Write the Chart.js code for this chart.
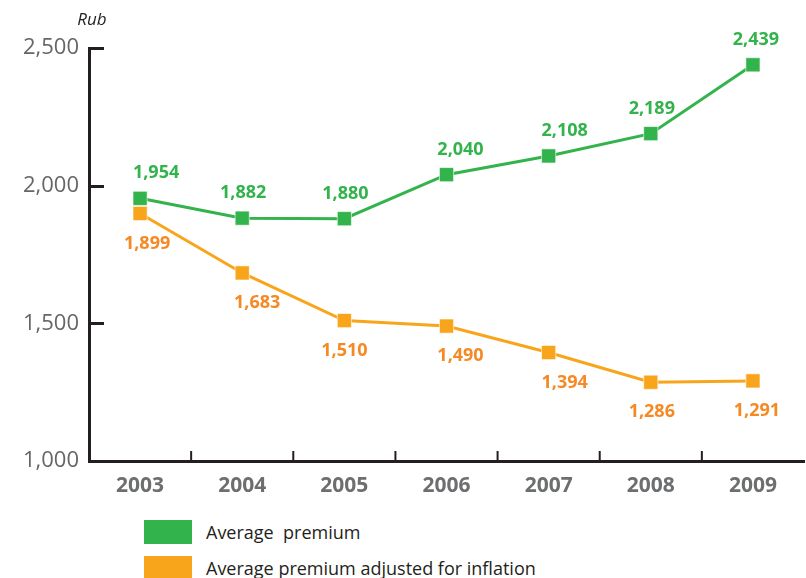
<!DOCTYPE html>
<html>
<head>
<meta charset="utf-8">
<script src="https://cdn.jsdelivr.net/npm/chart.js@4"></script>
<style>
  html, body { margin: 0; padding: 0; background: #fff; overflow: hidden; width: 806px; height: 578px; }
  .wrap { position: relative; width: 815px; height: 505px; }
  .legend { position: absolute; left: 144px; top: 520px; font-family: "Open Sans", sans-serif; font-size: 18px; color: #231f20; }
  .legend div { position: relative; height: 36px; }
  .legend span.box { position: absolute; left: 0; top: 0; width: 48px; height: 24px; }
  .legend span.txt { position: absolute; left: 62px; top: 0; line-height: 24px; white-space: pre; }
</style>
</head>
<body>
<div class="wrap"><canvas id="chart"></canvas></div>
<div class="legend" id="legend"></div>
<script>
const years = ['2003', '2004', '2005', '2006', '2007', '2008', '2009'];
const avgPremium = [1954, 1882, 1880, 2040, 2108, 2189, 2439];
const avgAdjusted = [1899, 1683, 1510, 1490, 1394, 1286, 1291];
const seriesNames = ['Average  premium', 'Average premium adjusted for inflation'];
const yTicks = [1000, 1500, 2000, 2500];

const green = '#33b34b';
const orange = '#f9a51c';
const orangeText = '#f58a25';

// small horizontal nudges of the value labels, as in the original layout
const labelNudge = [
  [16, 1, 1, 14, 16, 1, 3],
  [7, 15, 0, 14, 16, 1, 4]
];

const axisTicks = {
  id: 'axisTicks',
  afterDraw(chart) {
    const ctx = chart.ctx;
    const x = chart.scales.x, y = chart.scales.y;
    const area = chart.chartArea;
    ctx.save();
    ctx.strokeStyle = '#231f20';
    ctx.lineWidth = 3;
    // y ticks point inward
    yTicks.forEach(v => {
      if (v === yTicks[0]) return;
      const py = Math.round(y.getPixelForValue(v)) + 0.5;
      ctx.beginPath();
      ctx.moveTo(area.left - 1, py);
      ctx.lineTo(area.left + 15, py);
      ctx.stroke();
    });
    // x ticks between categories, pointing up
    ctx.lineWidth = 2;
    for (let i = 0; i < years.length - 1; i++) {
      const px = (x.getPixelForValue(i) + x.getPixelForValue(i + 1)) / 2;
      ctx.beginPath();
      ctx.moveTo(px, area.bottom);
      ctx.lineTo(px, area.bottom - 10);
      ctx.stroke();
    }
    // unit label
    ctx.fillStyle = '#231f20';
    ctx.font = 'italic 17px "Open Sans", sans-serif';
    ctx.textAlign = 'center';
    ctx.textBaseline = 'middle';
    ctx.fillText('Rub', area.left + 3, 20);

    // value labels
    ctx.font = 'bold 18px "Open Sans", sans-serif';
    chart.data.datasets.forEach((ds, di) => {
      const meta = chart.getDatasetMeta(di);
      ctx.fillStyle = di === 0 ? green : orangeText;
      meta.data.forEach((pt, i) => {
        const txt = ds.data[i].toLocaleString('en-US');
        const dy = di === 0 ? -25 : 30;
        ctx.fillText(txt, pt.x + labelNudge[di][i], pt.y + dy);
      });
    });
    ctx.restore();
  }
};

new Chart(document.getElementById('chart'), {
  type: 'line',
  data: {
    labels: years,
    datasets: [{
      label: seriesNames[0],
      data: avgPremium,
      borderColor: green,
      backgroundColor: green,
      borderWidth: 3,
      pointStyle: 'rect',
      pointRadius: 10,
      pointBorderColor: 'rgba(255,255,255,0.6)',
      pointBorderWidth: 1,
      pointBackgroundColor: green,
      tension: 0
    }, {
      label: seriesNames[1],
      data: avgAdjusted,
      borderColor: orange,
      backgroundColor: orange,
      borderWidth: 3,
      pointStyle: 'rect',
      pointRadius: 10,
      pointBorderColor: 'rgba(255,255,255,0.6)',
      pointBorderWidth: 1,
      pointBackgroundColor: orange,
      tension: 0
    }]
  },
  options: {
    responsive: true,
    maintainAspectRatio: false,
    animation: false,
    layout: { padding: { top: 48, left: 0, right: 0, bottom: 0 } },
    plugins: {
      legend: { display: false },
      tooltip: { enabled: false }
    },
    scales: {
      x: {
        offset: true,
        afterFit: function(scale) { scale.height = 44; },
        grid: { display: false, drawTicks: false },
        border: { display: true, color: '#231f20', width: 3 },
        ticks: {
          padding: 12,
          color: '#6d6e70',
          font: { family: '"Open Sans", sans-serif', size: 21, weight: 'bold' }
        }
      },
      y: {
        min: 1000,
        max: 2500,
        afterFit: function(scale) { scale.width = 89; },
        afterBuildTicks: function(scale) { scale.ticks = yTicks.map(v => ({ value: v })); },
        grid: { display: false, drawTicks: false },
        border: { display: true, color: '#231f20', width: 3 },
        ticks: {
          padding: 10,
          color: '#666666',
          font: { family: '"Open Sans", sans-serif', size: 22 },
          callback: function(value) { return value.toLocaleString('en-US'); }
        }
      }
    }
  },
  plugins: [axisTicks]
});

const legendEl = document.getElementById('legend');
[green, orange].forEach((c, i) => {
  const row = document.createElement('div');
  row.innerHTML = '<span class="box" style="background:' + c + '"></span><span class="txt">' + seriesNames[i] + '</span>';
  legendEl.appendChild(row);
});
</script>
</body>
</html>
